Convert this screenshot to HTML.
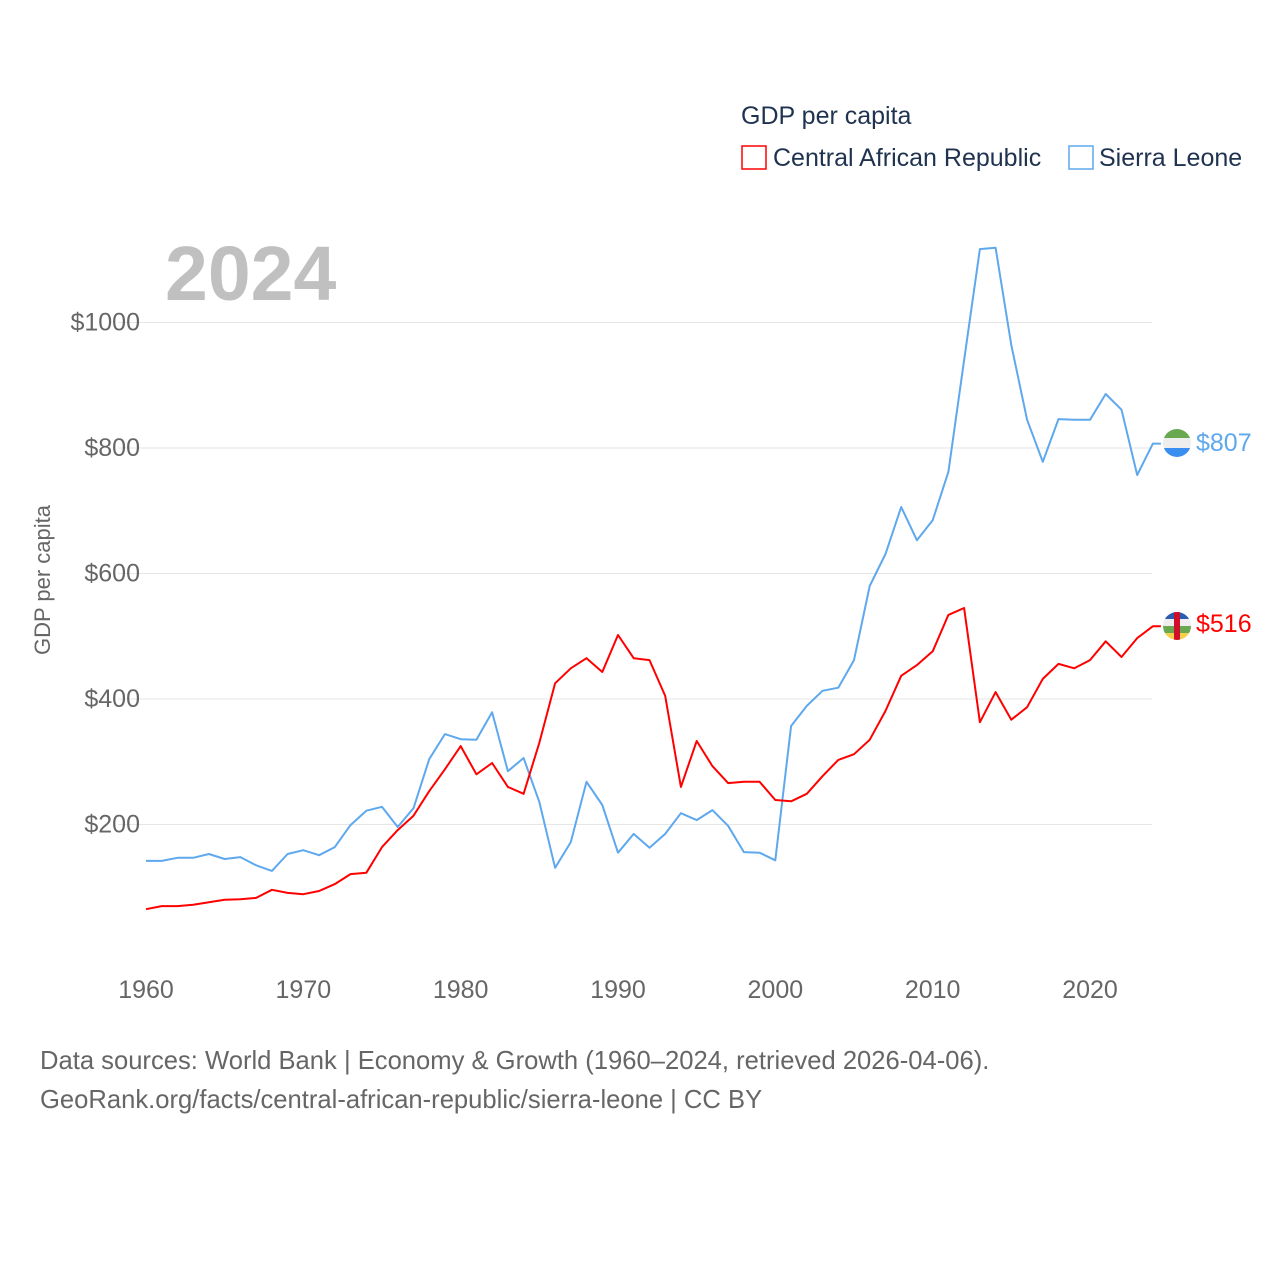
<!DOCTYPE html>
<html><head><meta charset="utf-8">
<style>
html,body{margin:0;padding:0;background:#fff;}
body{width:1280px;height:1280px;overflow:hidden;font-family:"Liberation Sans",sans-serif;}
svg text{font-family:"Liberation Sans",sans-serif;}
</style></head>
<body>
<svg id="chart" width="1280" height="1280" viewBox="0 0 1280 1280">
  <text x="741" y="124" font-size="25" fill="#1f3350">GDP per capita</text>
  <rect x="742" y="146" width="24" height="23" fill="none" stroke="#ff0000" stroke-width="1.5"/>
  <text x="773" y="166" font-size="25" fill="#1f3350">Central African Republic</text>
  <rect x="1069" y="146" width="24" height="23" fill="none" stroke="#5ea8ee" stroke-width="1.5"/>
  <text x="1099" y="166" font-size="25" fill="#1f3350">Sierra Leone</text>
  <text x="165" y="300" font-size="77" font-weight="bold" fill="#c0c0c0">2024</text>
  <text transform="translate(50,580) rotate(-90)" text-anchor="middle" font-size="22" fill="#666">GDP per capita</text>
  <g id="grid"></g>
  <g id="xticks"></g>
  <g id="lines"></g>
  <g>
    <clipPath id="c1"><circle cx="1177" cy="443" r="14"/></clipPath>
    <g clip-path="url(#c1)">
      <rect x="1160" y="428" width="34" height="10" fill="#6aa84f"/>
      <rect x="1160" y="438" width="34" height="10" fill="#eeeeee"/>
      <rect x="1160" y="448" width="34" height="10" fill="#3a8eef"/>
    </g>
  </g>
  <g>
    <clipPath id="c2"><circle cx="1177" cy="626" r="14"/></clipPath>
    <g clip-path="url(#c2)">
      <rect x="1160" y="611" width="34" height="8" fill="#2a5db0"/>
      <rect x="1160" y="619" width="34" height="7" fill="#eeeeee"/>
      <rect x="1160" y="626" width="34" height="7" fill="#6aa84f"/>
      <rect x="1160" y="633" width="34" height="8" fill="#f5d04a"/>
      <rect x="1174" y="611" width="6" height="30" fill="#d0102a"/>
    </g>
  </g>
  <text x="1196" y="451" font-size="25" fill="#5ea8ee">$807</text>
  <text x="1196" y="632" font-size="25" fill="#ff0000">$516</text>
  <text x="40" y="1069" font-size="25.6" fill="#666">Data sources: World Bank | Economy &amp; Growth (1960–2024, retrieved 2026-04-06).</text>
  <text x="40" y="1108" font-size="25.6" fill="#666">GeoRank.org/facts/central-african-republic/sierra-leone | CC BY</text>
</svg>
<script>
const years = [];
for (let y = 1960; y <= 2024; y++) years.push(y);
const carValues = [65,70,70,72,76,80,81,83,96,91,89,94,105,121,123,164,191,214,253,288,325,280,298,260,249,330,425,449,465,443,502,465,462,405,260,333,293,266,268,268,239,237,249,277,303,312,335,381,437,454,476,534,545,363,411,367,387,432,456,449,462,492,467,497,516];
const sleValues = [142,142,147,147,153,145,148,135,126,153,159,151,164,199,222,228,196,226,304,344,336,335,379,285,306,236,131,172,268,231,155,185,163,185,218,207,223,198,156,155,143,357,389,413,418,462,580,631,706,653,685,762,940,1117,1119,964,845,778,846,845,845,886,861,757,807];
const yTicks = [200,400,600,800,1000];
const yTickLabels = ["$200","$400","$600","$800","$1000"];
const xTicks = [1960,1970,1980,1990,2000,2010,2020];

const NS = "http://www.w3.org/2000/svg";
function xScale(yr){ return 146 + (yr - 1960) * (1090 - 146) / 60; }
function yScale(v){ return 950 - v * 0.6275; }

const grid = document.getElementById('grid');
yTicks.forEach((t,i)=>{
  const l = document.createElementNS(NS,'line');
  l.setAttribute('x1',118); l.setAttribute('x2',1152);
  l.setAttribute('y1',yScale(t)); l.setAttribute('y2',yScale(t));
  l.setAttribute('stroke','#e6e6e6'); l.setAttribute('stroke-width','1');
  
  
  grid.appendChild(l);
  const tx = document.createElementNS(NS,'text');
  tx.setAttribute('x',140); tx.setAttribute('y',yScale(t)+8);
  tx.setAttribute('text-anchor','end'); tx.setAttribute('font-size','25'); tx.setAttribute('fill','#666');
  tx.textContent = yTickLabels[i];
  
  
  grid.appendChild(tx);
});
const xg = document.getElementById('xticks');
xTicks.forEach(t=>{
  const tx = document.createElementNS(NS,'text');
  tx.setAttribute('x',xScale(t)); tx.setAttribute('y',998);
  tx.setAttribute('text-anchor','middle'); tx.setAttribute('font-size','25'); tx.setAttribute('fill','#666');
  tx.textContent = t;
  
  
  xg.appendChild(tx);
});
const lg = document.getElementById('lines');
function drawLine(vals,color,name){
  let d = vals.map((v,i)=>(i?'L':'M')+xScale(years[i]).toFixed(1)+','+yScale(v).toFixed(1)).join(' ');
  const last = vals[vals.length-1];
  d += ' L'+(xScale(2024)+8).toFixed(1)+','+yScale(last).toFixed(1);
  const p = document.createElementNS(NS,'path');
  p.setAttribute('d',d); p.setAttribute('fill','none'); p.setAttribute('stroke',color);
  p.setAttribute('stroke-width','2'); p.setAttribute('stroke-linejoin','round');
  
  
  lg.appendChild(p);
}
drawLine(sleValues,'#5ea8ee','line-sierra-leone');
drawLine(carValues,'#ff0000','line-central-african-republic');
</script>
</body></html>
